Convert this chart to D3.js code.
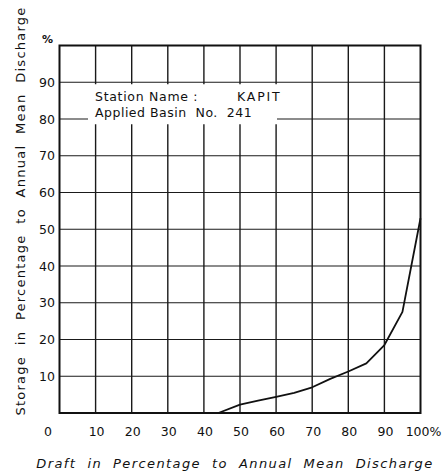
<!DOCTYPE html>
<html><head><meta charset="utf-8">
<script src="https://cdn.jsdelivr.net/npm/d3@7"></script>
<style>body{margin:0;background:#fff}svg{display:block}text{font-family:"DejaVu Sans",sans-serif;fill:#111;white-space:pre}</style>
</head><body><svg id="c" width="443" height="475"></svg>
<script>
const draft = [44, 50, 55, 60, 65, 70, 75, 80, 85, 90, 95, 100];
const storage = [0, 2.3, 3.4, 4.4, 5.5, 7, 9.3, 11.3, 13.5, 18.5, 27.5, 53];
const xTicks = [0,10,20,30,40,50,60,70,80,90,100];
const yTicks = [10,20,30,40,50,60,70,80,90];
const xTickLabels = ["0","10","20","30","40","50","60","70","80","90","100%"];
const infoLines = ["Station Name :", "KAPIT", "Applied Basin No. 241"];

const svg = d3.select("#c");
const x = d3.scaleLinear().domain([0,100]).range([59.5,420.5]);
const y = d3.scaleLinear().domain([0,100]).range([413,45.5]);

const g = svg.append("g");
g.selectAll(".vx").data(xTicks.slice(1,-1)).join("line")
 .attr("x1",d=>x(d)).attr("x2",d=>x(d)).attr("y1",y(0)).attr("y2",y(100))
 .attr("stroke","#1a1a1a").attr("stroke-width",1.4);
g.selectAll(".hy").data(yTicks).join("line")
 .attr("x1",x(0)).attr("x2",x(100)).attr("y1",d=>y(d)).attr("y2",d=>y(d))
 .attr("stroke","#1a1a1a").attr("stroke-width",1.2);
g.append("rect").attr("x",88).attr("y",y(90)+2).attr("width",189).attr("height",40).attr("fill","#fff");
g.append("rect").attr("x",x(0)).attr("y",y(100)).attr("width",x(100)-x(0)).attr("height",y(0)-y(100))
 .attr("fill","none").attr("stroke","#111").attr("stroke-width",2);

const pts = draft.map((d,i)=>[d,storage[i]]);
g.append("path").datum(pts)
 .attr("d", d3.line().x(d=>x(d[0])).y(d=>y(d[1])))
 .attr("fill","none").attr("stroke","#111").attr("stroke-width",1.8).attr("stroke-linejoin","round");

svg.selectAll(".yl").data(yTicks).join("text")
 .attr("x",55).attr("y",d=>y(d)+4.5).attr("text-anchor","end").attr("font-size",12.5).text(d=>d);
svg.append("text").attr("x",42).attr("y",y(100)-3).attr("font-size",11).attr("font-weight","bold").text("%");
svg.selectAll(".xl").data(xTicks).join("text")
 .attr("x",(d,i)=> i===xTickLabels.length-1 ? x(d)+3 : (i===0 ? 48 : x(d)+1))
 .attr("y",436).attr("text-anchor","middle")
 .attr("font-size",12.5).text((d,i)=>xTickLabels[i]);

svg.append("text").attr("x",235).attr("y",468).attr("text-anchor","middle")
 .attr("font-size",13).attr("letter-spacing",1.4).attr("font-style","italic")
 .text("Draft  in  Percentage  to  Annual  Mean  Discharge");
svg.append("text").attr("transform","translate(25,211) rotate(-90)").attr("text-anchor","middle")
 .attr("font-size",13).attr("letter-spacing",1.25)
 .text("Storage  in  Percentage  to  Annual  Mean  Discharge");

svg.append("text").attr("x",95).attr("y",101).attr("font-size",12.5).attr("letter-spacing",0.7).text(infoLines[0]);
svg.append("text").attr("x",237).attr("y",101).attr("font-size",12.5).attr("letter-spacing",1.8).text(infoLines[1]);
svg.append("text").attr("x",95).attr("y",117).attr("font-size",12.5).attr("letter-spacing",0.5).text(infoLines[2].replace("Basin ","Basin  ").replace("No. ","No.  "));
</script></body></html>
